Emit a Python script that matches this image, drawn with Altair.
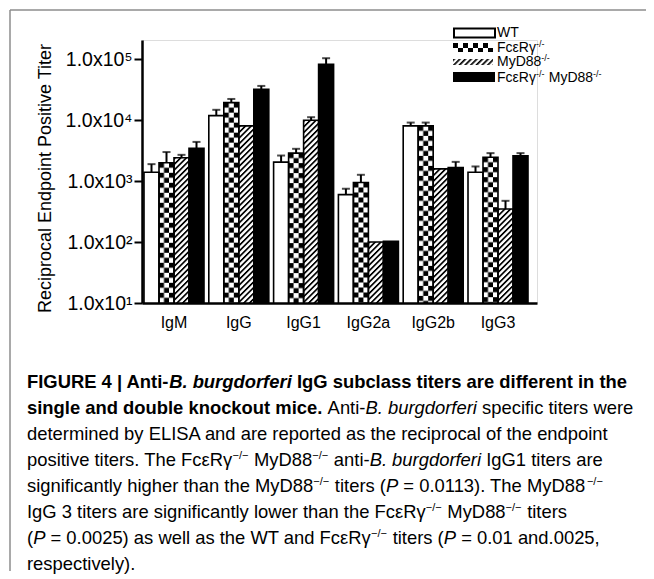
import base64
import altair as alt
import pandas as pd

# ---------------- data ----------------
GROUPS = ["IgM", "IgG", "IgG1", "IgG2a", "IgG2b", "IgG3"]
SERIES = ["WT", "FcεRγ-/-", "MyD88-/-", "FcεRγ-/- MyD88-/-"]
WT = [1400, 11900, 2050, 600, 8070, 1400]
WT_ERR = [1900, 14800, 2630, 750, 9140, 1740]
FCR = [2000, 19400, 2880, 950, 8070, 2470]
FCR_ERR = [3000, 22300, 3390, 1270, 9140, 2880]
MYD = [2420, 8070, 10000, 100, 1590, 348]
MYD_ERR = [2700, None, 11200, None, None, 475]
DKO = [3470, 32200, 82800, 103, 1670, 2600]
DKO_ERR = [4400, 36500, 104000, None, 2070, 2880]

Y_TICKS = [10, 100, 1000, 10000, 100000]
Y_TICK_LABELS = ["1.0x10¹", "1.0x10²", "1.0x10³", "1.0x10⁴", "1.0x10⁵"]
Y_TITLE = "Reciprocal Endpoint Positive Titer"

LEGEND_RUNS = [
    [("WT", "n")],
    [("FcεRγ", "n"), ("-/-", "s")],
    [("MyD88", "n"), ("-/-", "s")],
    [("FcεRγ", "n"), ("-/-", "s"), (" MyD88", "n"), ("-/-", "s")],
]

CAPTION = [
    [("FIGURE 4 | Anti-", "b"), ("B. burgdorferi", "bi"),
     (" IgG subclass titers are different in the", "b")],
    [("single and double knockout mice.", "b"), (" Anti-", "n"),
     ("B. burgdorferi", "i"), (" specific titers were", "n")],
    [("determined by ELISA and are reported as the reciprocal of the endpoint", "n")],
    [("positive titers. The FcεRγ", "n"), ("−/−", "s"), (" MyD88", "n"), ("−/−", "s"),
     (" anti-", "n"), ("B. burgdorferi", "i"), (" IgG1 titers are", "n")],
    [("significantly higher than the MyD88", "n"), ("−/−", "s"), (" titers (", "n"),
     ("P", "i"), (" = 0.0113). The MyD88", "n"), ("−/−", "s")],
    [("IgG 3 titers are significantly lower than the FcεRγ", "n"), ("−/−", "s"),
     (" MyD88", "n"), ("−/−", "s"), (" titers", "n")],
    [("(", "n"), ("P", "i"), (" = 0.0025) as well as the WT and FcεRγ", "n"), ("−/−", "s"),
     (" titers (", "n"), ("P", "i"), (" = 0.01 and.0025,", "n")],
    [("respectively).", "n")],
]

rows = []
for s, vals, errs in zip(SERIES, [WT, FCR, MYD, DKO], [WT_ERR, FCR_ERR, MYD_ERR, DKO_ERR]):
    for g, v, e in zip(GROUPS, vals, errs):
        rows.append({"group": g, "series": s, "value": v, "err": e})
df = pd.DataFrame(rows)

# ---------------- text metrics (Arial / Liberation Sans) ----------------
ASCII = "".join(chr(c) for c in range(32, 127))
REG = ([278, 278, 355, 556, 556, 889, 667, 191, 333, 333, 389, 584, 278, 333, 278, 278]
       + [556] * 10 + [278, 278, 584, 584, 584, 556, 1015]
       + [667, 667, 722, 722, 667, 611, 778, 722, 278, 500, 667, 556, 833, 722, 778, 667,
          778, 722, 667, 611, 722, 667, 944, 667, 667, 611]
       + [278, 278, 278, 469, 556, 333]
       + [556, 556, 500, 556, 556, 278, 556, 556, 222, 222, 500, 222, 833, 556, 556, 556,
          556, 333, 500, 278, 556, 500, 722, 500, 500, 500]
       + [334, 260, 334, 584])
BOLD = ([278, 333, 474, 556, 556, 889, 722, 238, 333, 333, 389, 584, 278, 333, 278, 278]
        + [556] * 10 + [333, 333, 584, 584, 584, 611, 975]
        + [722, 722, 722, 722, 667, 611, 778, 722, 278, 556, 722, 611, 833, 722, 778, 667,
           778, 722, 667, 611, 722, 667, 944, 667, 667, 611]
        + [333, 278, 333, 584, 556, 333]
        + [556, 611, 556, 611, 556, 333, 611, 611, 278, 278, 556, 278, 889, 611, 611, 611,
           611, 389, 556, 333, 611, 556, 778, 556, 556, 500]
        + [389, 280, 389, 584])
EXTRA = {"ε": 445, "γ": 500, "−": 584}
W_REG = dict(zip(ASCII, REG)); W_REG.update(EXTRA)
W_BOLD = dict(zip(ASCII, BOLD)); W_BOLD.update(EXTRA)


def tw(s, bold, size):
    t = W_BOLD if bold else W_REG
    return sum(t.get(ch, 556) for ch in s) * size / 1000.0


FONT = "Liberation Sans"
DUMMY = alt.Data(values=[{"k": 0}])


def text_layer(x, y, s, size, weight="normal", style="normal"):
    return alt.Chart(DUMMY).mark_text(
        align="left", baseline="alphabetic", fontSize=size, fontWeight=weight,
        fontStyle=style, font=FONT, color="black"
    ).encode(x=alt.value(x), y=alt.value(y), text=alt.value(s))


def runs_layers(runs, x0, y, size, sup_size, sup_dy):
    out = []
    x = x0
    for text, st in runs:
        bold = st.startswith("b")
        sz = sup_size if st == "s" else size
        dy = sup_dy if st == "s" else 0
        lead = len(text) - len(text.lstrip(" "))
        xs = x + tw(" " * lead, bold, sz)
        out.append(text_layer(xs, y + dy, text.strip(" "), sz,
                              weight="bold" if bold else "normal",
                              style="italic" if st in ("i", "bi") else "normal"))
        x += tw(text, bold, sz) + (0.5 if st == "s" else 0)
    return out


# ---------------- patterns ----------------
def svg_url(svg):
    return "data:image/svg+xml;base64," + base64.b64encode(svg.encode("utf-8")).decode("ascii")


CHECKER_URL = svg_url(
    "<svg xmlns='http://www.w3.org/2000/svg' width='100%' height='100%'>"
    "<defs><pattern id='p' width='10' height='10' patternUnits='userSpaceOnUse'>"
    "<rect width='10' height='10' fill='#fff'/><rect width='5' height='5' fill='#000'/>"
    "<rect x='5' y='5' width='5' height='5' fill='#000'/></pattern></defs>"
    "<rect width='100%' height='100%' fill='url(#p)'/></svg>")
HATCH_URL = svg_url(
    "<svg xmlns='http://www.w3.org/2000/svg' width='100%' height='100%'>"
    "<defs><pattern id='p' width='4' height='4' patternUnits='userSpaceOnUse' "
    "patternTransform='rotate(45)'>"
    "<rect width='4' height='4' fill='#fff'/><rect width='1.7' height='4' fill='#000'/>"
    "</pattern></defs>"
    "<rect width='100%' height='100%' fill='url(#p)'/></svg>")

# ---------------- encodings ----------------
label_expr = " : ".join(f"datum.value == {v} ? '{l}'" for v, l in zip(Y_TICKS, Y_TICK_LABELS)) + " : ''"
yscale = alt.Scale(type="log", domain=[10, 207000], nice=False)
yaxis = alt.Axis(values=Y_TICKS, labelExpr=label_expr, title=Y_TITLE, grid=False,
                 domainColor="black", domainWidth=2.5, tickColor="black", tickWidth=2,
                 tickSize=8, labelPadding=2, labelFontSize=19.5, labelColor="black",
                 labelFont=FONT, titleFont=FONT, titleFontSize=18, titleFontWeight="normal",
                 titleColor="black", titleX=-92, titleY=138, titleAngle=-90,
                 titleAlign="center", titleBaseline="alphabetic")
xscale = alt.Scale(paddingInner=0.0741, paddingOuter=0.0849, align=0.182)
xaxis = alt.Axis(title=None, labelAngle=0, ticks=False, tickSize=0, domainColor="black",
                 domainWidth=2.5, labelFontSize=16, labelColor="black", labelFont=FONT,
                 labelBaseline="alphabetic", labelPadding=24)

x_enc = alt.X("group:N", sort=GROUPS, scale=xscale, axis=xaxis)
xo_enc = alt.XOffset("series:N", sort=SERIES, scale=alt.Scale(paddingInner=0, paddingOuter=0))
y_enc = alt.Y("value:Q", scale=yscale, axis=yaxis)
fill_enc = alt.Fill("series:N", sort=SERIES, legend=None,
                    scale=alt.Scale(domain=SERIES, range=["white", "#777777", "#777777", "black"]))

base = alt.Chart(df)
bars = base.mark_bar(strokeWidth=0).encode(x=x_enc, xOffset=xo_enc, y=y_enc,
                                            y2=alt.datum(10), fill=fill_enc)
checker = base.transform_filter(alt.datum.series == SERIES[1]).mark_image(aspect=False).encode(
    x=x_enc, xOffset=xo_enc, y=y_enc, y2=alt.datum(10), url=alt.value(CHECKER_URL))
hatch = base.transform_filter(alt.datum.series == SERIES[2]).mark_image(aspect=False).encode(
    x=x_enc, xOffset=xo_enc, y=y_enc, y2=alt.datum(10), url=alt.value(HATCH_URL))
outline = base.mark_bar(fill="transparent", stroke="black", strokeWidth=1.6).encode(
    x=x_enc, xOffset=xo_enc, y=y_enc, y2=alt.datum(10))
errbase = base.transform_filter("isValid(datum.err)")
err_rule = errbase.mark_rule(color="black", strokeWidth=2).encode(
    x=x_enc, xOffset=xo_enc, y=y_enc, y2="err:Q")
err_cap = errbase.mark_tick(color="black", thickness=2, size=8, orient="horizontal").encode(
    x=x_enc, xOffset=xo_enc, y=alt.Y("err:Q", scale=yscale, axis=yaxis))

layers = [bars, checker, hatch, outline, err_rule, err_cap]

# ---------------- frame ----------------
FRAME = "#8c8c8c"
layers.append(alt.Chart(DUMMY).mark_rule(color=FRAME, strokeWidth=1.5).encode(
    x=alt.value(-132), x2=alt.value(504), y=alt.value(-30)))
layers.append(alt.Chart(DUMMY).mark_rule(color=FRAME, strokeWidth=1.5).encode(
    x=alt.value(-132), y=alt.value(-30), y2=alt.value(531)))

# ---------------- legend ----------------
layers.append(alt.Chart(DUMMY).mark_rect(fill="white", stroke="black", strokeWidth=2).encode(
    x=alt.value(312), x2=alt.value(353), y=alt.value(-11.5), y2=alt.value(-2.5)))
layers.append(alt.Chart(DUMMY).mark_image(aspect=False).encode(
    x=alt.value(311), x2=alt.value(351), y=alt.value(3), y2=alt.value(12),
    url=alt.value(CHECKER_URL)))
layers.append(alt.Chart(DUMMY).mark_image(aspect=False).encode(
    x=alt.value(311), x2=alt.value(351), y=alt.value(19), y2=alt.value(25),
    url=alt.value(HATCH_URL)))
layers.append(alt.Chart(DUMMY).mark_rect(fill="black").encode(
    x=alt.value(311), x2=alt.value(353), y=alt.value(32), y2=alt.value(42)))
for runs, ly in zip(LEGEND_RUNS, [-3, 11.5, 26, 41.5]):
    layers += runs_layers(runs, 355, ly, 14, 9, -5)

# ---------------- caption ----------------
for i, runs in enumerate(CAPTION):
    layers += runs_layers(runs, -115, 348 + 26 * i, 18.4, 11, -7)

chart = alt.layer(*layers).properties(
    width=395, height=263,
    autosize=alt.AutoSizeParams(type="none"),
    padding={"left": 134, "top": 32, "right": 109, "bottom": 276},
).configure_view(stroke=None).configure(font=FONT)

chart.save("out.html", embed_options={"renderer": "svg", "actions": False})
